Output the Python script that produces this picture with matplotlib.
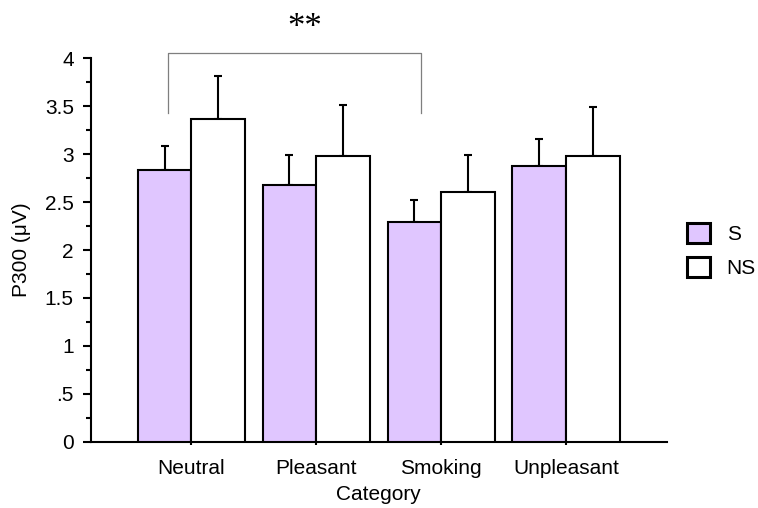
import matplotlib
matplotlib.use("Agg")
import matplotlib.pyplot as plt
from matplotlib.patches import Patch
import numpy as np

# Mean P300 amplitude by picture category for smokers (S) and non-smokers (NS)
categories = ["Neutral", "Pleasant", "Smoking", "Unpleasant"]
s_means = [2.84, 2.675, 2.295, 2.876]
s_err = [0.25, 0.32, 0.23, 0.28]
ns_means = [3.37, 2.98, 2.61, 2.98]
ns_err = [0.45, 0.53, 0.38, 0.51]
ytick_values = [0, 0.5, 1, 1.5, 2, 2.5, 3, 3.5, 4]
ytick_labels = ["0", ".5", "1", "1.5", "2", "2.5", "3", "3.5", "4"]
series_labels = ["S", "NS"]

S_COLOR = "#E0C6FF"
NS_COLOR = "#FFFFFF"
FS = 15

plt.rcParams["font.family"] = ["Liberation Sans", "DejaVu Sans"]

fig = plt.figure(figsize=(7.58, 5.08), dpi=100)
ax = fig.add_axes([0.1194, 0.1305, 0.7606, 0.7547])

x = np.arange(len(categories))
w = 0.43
lw = 1.5

ax.bar(x - w / 2, s_means, width=w, color=S_COLOR, edgecolor="black",
       linewidth=lw, zorder=3)
ax.bar(x + w / 2, ns_means, width=w, color=NS_COLOR, edgecolor="black",
       linewidth=lw, zorder=3)

# upward-only error bars
ax.errorbar(x - w / 2, s_means, yerr=[np.zeros(len(s_err)), s_err], fmt="none",
            ecolor="black", elinewidth=lw, capsize=2.6, capthick=lw, zorder=2)
ax.errorbar(x + w / 2, ns_means, yerr=[np.zeros(len(ns_err)), ns_err], fmt="none",
            ecolor="black", elinewidth=lw, capsize=2.6, capthick=lw, zorder=2)

ax.set_xlim(-0.808, 3.808)
ax.set_ylim(0, 4)

for side in ("top", "right"):
    ax.spines[side].set_visible(False)
for side in ("left", "bottom"):
    ax.spines[side].set_linewidth(1.5)

ax.set_yticks(ytick_values)
ax.set_yticklabels(ytick_labels, fontsize=FS)
ax.set_yticks(np.arange(0.25, 4, 0.5), minor=True)
ax.tick_params(axis="y", which="major", direction="out", length=6, width=1.5, pad=6)
ax.tick_params(axis="y", which="minor", direction="out", length=3.5, width=1.5)

ax.set_xticks(x)
ax.set_xticklabels(categories, fontsize=FS)
ax.tick_params(axis="x", which="major", direction="out", length=2.5, width=1.5, pad=10)

ax.set_xlabel("Category", fontsize=FS, labelpad=5)
ax.set_ylabel("P300 (μV)", fontsize=FS, labelpad=10)

# significance bracket between Neutral and Smoking (S)
bx0, bx1 = -0.19, 1.84
ax.plot([bx0, bx0, bx1, bx1], [3.43, 4.06, 4.06, 3.43], color="#7F7F7F",
        linewidth=0.9, clip_on=False, zorder=4)
ax.text((bx0 + bx1) / 2 + 0.085, 4.31, "**", ha="center", va="center",
        fontsize=25, family=["Liberation Serif", "DejaVu Serif"], clip_on=False)

handles = [Patch(facecolor=S_COLOR, edgecolor="black", linewidth=2.2),
           Patch(facecolor=NS_COLOR, edgecolor="black", linewidth=2.2)]
fig.legend(handles, series_labels, loc="upper left",
           bbox_to_anchor=(687 / 758, 1 - 223 / 508), frameon=False,
           fontsize=FS, handlelength=1.1, handleheight=1.1, handletextpad=0.8,
           labelspacing=0.62, borderpad=0, borderaxespad=0)

fig.savefig("out.png", dpi=100)
